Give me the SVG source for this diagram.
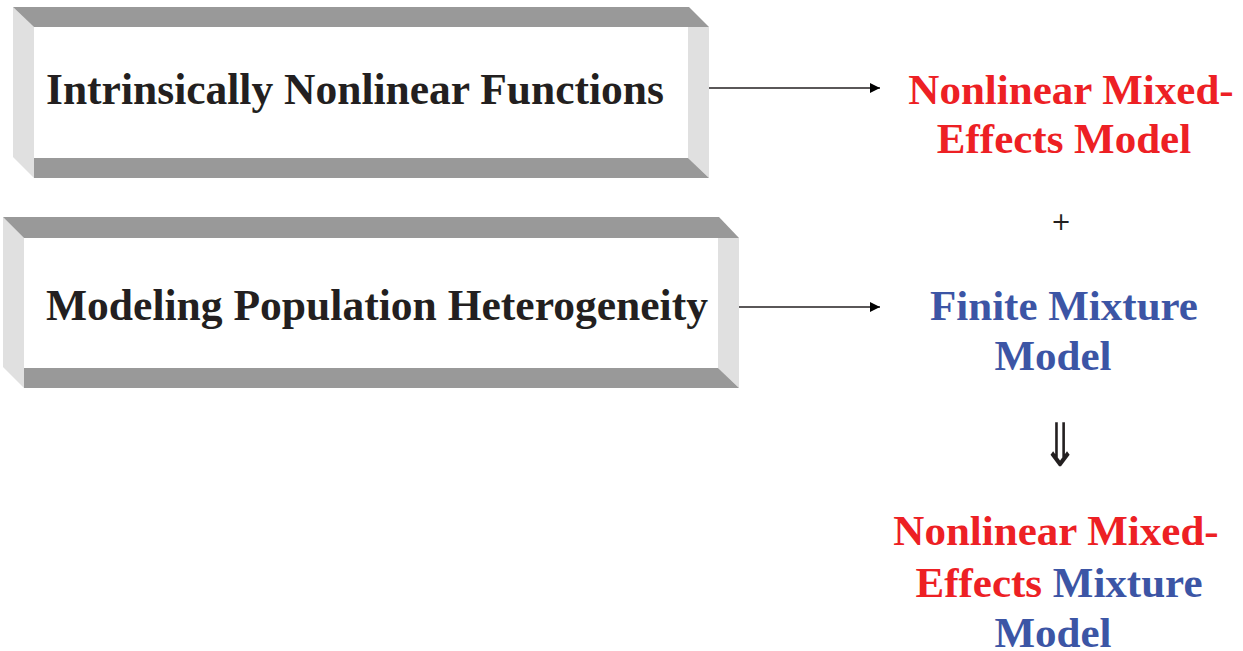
<svg xmlns="http://www.w3.org/2000/svg" width="1243" height="651" viewBox="0 0 1243 651">
<defs>
<style>
.dark{fill:#999999;}
.light{fill:#e0e0e0;}
.face{fill:#ffffff;}
.lbl{font-family:"Liberation Serif","Times New Roman",serif;font-weight:bold;font-size:43.5px;fill:#231f20;}
.out{font-family:"Liberation Serif","Times New Roman",serif;font-weight:bold;font-size:43px;text-anchor:middle;}
.red{fill:#ed2024;}
.blue{fill:#3c55a5;}
.sym{font-family:"DejaVu Sans",sans-serif;fill:#231f20;text-anchor:middle;}
.conn{stroke:#231f20;stroke-width:1.6;fill:none;}
</style>
<marker id="ah" viewBox="0 0 10 10" refX="10" refY="5" markerWidth="10" markerHeight="10" markerUnits="userSpaceOnUse" orient="auto">
<path d="M0,0 L10,5 L0,10 z" fill="#000"/>
</marker>
</defs>
<rect width="1243" height="651" fill="#ffffff"/>
<g id="box1">
<rect class="face" x="34" y="27" width="654" height="131"/>
<polygon class="light" points="13,7 34,27 34,178 13,157"/>
<polygon class="light" points="688,27 709,27 709,178 688,158"/>
<polygon class="dark" points="13,7 689,7 709,27 34,27"/>
<polygon class="dark" points="34,158 688,158 709,178 34,178"/>
<text class="lbl" x="46" y="104" textLength="618" lengthAdjust="spacingAndGlyphs">Intrinsically Nonlinear Functions</text>
</g>
<g id="box2">
<rect class="face" x="24" y="238" width="694" height="130"/>
<polygon class="light" points="3,217 24,238 24,388 3,367"/>
<polygon class="light" points="718,238 739,238 739,388 718,368"/>
<polygon class="dark" points="3,217 719,217 739,238 24,238"/>
<polygon class="dark" points="24,368 718,368 739,388 24,388"/>
<text class="lbl" x="46" y="320" textLength="662" lengthAdjust="spacingAndGlyphs">Modeling Population Heterogeneity</text>
</g>
<g id="connectors">
<line class="conn" x1="709" y1="88" x2="880" y2="88" stroke="#555555" marker-end="url(#ah)"/>
<line class="conn" x1="739" y1="307" x2="880" y2="307" marker-end="url(#ah)"/>
</g>
<g id="nlme">
<text class="out red" x="1071" y="104">Nonlinear Mixed-</text>
<text class="out red" x="1064" y="153">Effects Model</text>
</g>
<g id="plus">
<text class="sym" x="1061" y="230" font-size="24">+</text>
</g>
<g id="fmm">
<text class="out blue" x="1064" y="320">Finite Mixture</text>
<text class="out blue" x="1053" y="370">Model</text>
</g>
<g id="implies">
<text class="sym" transform="translate(1060,0) scale(0.75,1)" x="0" y="466" font-size="60">⇓</text>
</g>
<g id="nlmem">
<text class="out red" x="1056" y="545">Nonlinear Mixed-</text>
<text class="out" x="1059" y="597"><tspan class="red">Effects </tspan><tspan class="blue">Mixture</tspan></text>
<text class="out blue" x="1053" y="647">Model</text>
</g>
</svg>
